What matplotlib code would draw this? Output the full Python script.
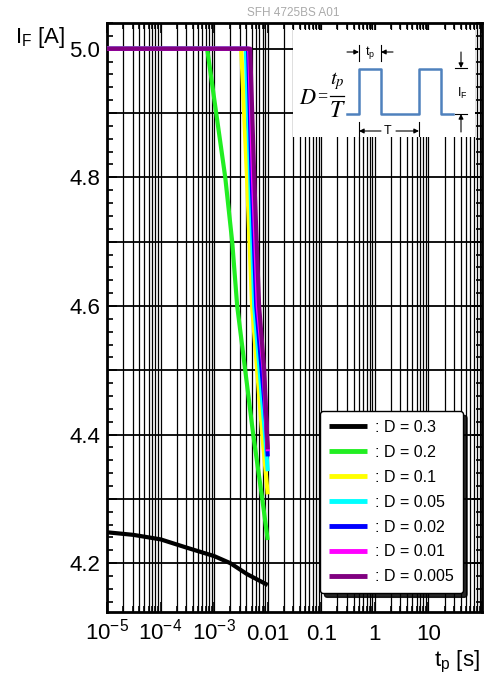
import matplotlib
matplotlib.use("Agg")
import matplotlib.pyplot as plt
from matplotlib.ticker import FixedLocator, LogLocator, MultipleLocator, FuncFormatter, NullFormatter

plt.rcParams["font.family"] = ["Liberation Sans", "DejaVu Sans"]
plt.rcParams["mathtext.default"] = "regular"

# pulse length t_p [s] vs max. forward current I_F [A]
tp_d03 = [1e-5, 3.1e-5, 1e-4, 3.1e-4, 1e-3, 2e-3, 4.1e-3, 1e-2]
if_d03 = [4.248, 4.244, 4.237, 4.224, 4.211, 4.200, 4.183, 4.166]

tp_d02 = [1e-5, 7.4e-4, 1.61e-3, 2.17e-3, 2.69e-3, 3.8e-3, 5.36e-3, 7.9e-3, 1e-2]
if_d02 = [5.0, 5.0, 4.8, 4.7, 4.6, 4.5, 4.4, 4.3, 4.236]

tp_d01 = [1e-5, 3.2e-3, 4.1e-3, 5.1e-3, 7.9e-3, 1e-2]
if_d01 = [5.0, 5.0, 4.8, 4.6, 4.4, 4.307]

tp_d005 = [1e-5, 3.9e-3, 4.7e-3, 5.6e-3, 8.9e-3, 1e-2]
if_d005 = [5.0, 5.0, 4.8, 4.6, 4.4, 4.343]

tp_d002 = [1e-5, 4.3e-3, 5.0e-3, 6.1e-3, 9.3e-3, 1e-2]
if_d002 = [5.0, 5.0, 4.8, 4.6, 4.42, 4.366]

tp_d001 = [1e-5, 4.5e-3, 5.3e-3, 6.5e-3, 8.4e-3, 1e-2]
if_d001 = [5.0, 5.0, 4.8, 4.6, 4.5, 4.374]

tp_d0005 = [1e-5, 4.7e-3, 5.6e-3, 6.9e-3, 8.6e-3, 1e-2]
if_d0005 = [5.0, 5.0, 4.8, 4.6, 4.5, 4.377]

labels = [": D = 0.3", ": D = 0.2", ": D = 0.1", ": D = 0.05",
          ": D = 0.02", ": D = 0.01", ": D = 0.005"]
colors = ["#000000", "#22ee22", "#ffff00", "#00ffff", "#0000ff", "#ff00ff", "#800080"]
series = [(tp_d03, if_d03), (tp_d02, if_d02), (tp_d01, if_d01), (tp_d005, if_d005),
          (tp_d002, if_d002), (tp_d001, if_d001), (tp_d0005, if_d0005)]

xticks = [1e-5, 1e-4, 1e-3, 1e-2, 1e-1, 1, 10, 100]
xticklabels = ["$10^{-5}$", "$10^{-4}$", "$10^{-3}$", "0.01", "0.1", "1", "10", ""]

fig = plt.figure(figsize=(4.86, 6.75), dpi=100)
ax = fig.add_axes([0.2202, 0.0933, 0.7716, 0.8726])

for (tp, i_f), c, lab in zip(series, colors, labels):
    ax.plot(tp, i_f, color=c, lw=3, label=lab, solid_capstyle="butt", zorder=3)

ax.set_xscale("log")
ax.set_xlim(1e-5, 100)
ax.set_ylim(4.124, 5.04)

ax.xaxis.set_major_locator(FixedLocator(xticks))
ax.set_xticklabels(xticklabels)
ax.xaxis.set_minor_locator(LogLocator(base=10, subs=range(2, 10), numticks=30))
ax.xaxis.set_minor_formatter(NullFormatter())
ax.yaxis.set_major_locator(MultipleLocator(0.1))
ax.yaxis.set_minor_locator(MultipleLocator(0.02))
ax.yaxis.set_major_formatter(FuncFormatter(lambda v, p: f"{v:.1f}" if round(v * 10) % 2 == 0 else ""))

ax.grid(True, which="both", axis="x", color="k", lw=0.9)
ax.grid(True, which="major", axis="y", color="k", lw=1.3)
ax.tick_params(which="both", direction="in", top=True, right=True, labelsize=16, width=1.2)
ax.tick_params(which="major", length=7)
ax.tick_params(which="minor", length=4.5)
ax.tick_params(axis="y", pad=5)
ax.tick_params(axis="x", pad=20)
for t in ax.get_xticklabels():
    t.set_va("baseline")
for s in ax.spines.values():
    s.set_linewidth(2)

leg = ax.legend(loc="lower right", bbox_to_anchor=(0.949, 0.032), fontsize=11.5,
                frameon=True, fancybox=True, framealpha=1, edgecolor="k",
                shadow={"ox": 3, "oy": -3, "color": "k", "alpha": 0.85},
                handlelength=2.4, handletextpad=0.5, labelspacing=0.62,
                borderpad=0.55, borderaxespad=0)
leg.get_frame().set_linewidth(1.0)
for h in leg.get_lines():
    h.set_linewidth(3.5)

fig.text(0.603, 0.981, "SFH 4725BS A01", color="#aaaaaa", fontsize=8.5, ha="center", va="center")
fig.text(0.031, 0.936, r"I$_{F}$ [A]", fontsize=16, ha="left", va="baseline")
fig.text(0.988, 0.013, r"t$_{p}$ [s]", fontsize=16, ha="right", va="baseline")

# pulse diagram (drawn in pixel-like coordinates of its own box)
ins = fig.add_axes([293 / 486, 1 - 137 / 675, (475 - 293) / 486, (137 - 30) / 675])
ins.set_xlim(293, 475)
ins.set_ylim(137, 30)
ins.set_xticks([])
ins.set_yticks([])
for s in ins.spines.values():
    s.set_visible(False)

wave_x = [347, 359, 359, 381, 381, 419, 419, 441, 441, 453]
wave_y = [114, 114, 69, 69, 114, 114, 69, 69, 114, 114]
ins.plot(wave_x, wave_y, color="#4f81bd", lw=1.8)

# D = t_p / T written as a stacked fraction
ins.text(299, 98, r"$\mathit{D}$", fontsize=16, math_fontfamily="stix",
         ha="left", va="center")
ins.text(322, 97, "=", fontsize=13, family="Liberation Serif", ha="center", va="center")
ins.text(337, 92, r"$\mathit{t_p}$", fontsize=15, math_fontfamily="stix",
         ha="center", va="bottom")
ins.plot([330, 344], [96, 96], color="k", lw=0.9)
ins.text(337, 100, r"$\mathit{T}$", fontsize=17, math_fontfamily="stix",
         ha="center", va="top")

arr = dict(arrowstyle="-|>", color="k", lw=0.8, mutation_scale=7, shrinkA=0, shrinkB=0)
ins.annotate("", xy=(359, 52), xytext=(347, 52), arrowprops=arr)
ins.annotate("", xy=(381, 52), xytext=(393, 52), arrowprops=arr)
ins.plot([359, 359], [45, 61], color="k", lw=0.8)
ins.plot([381, 381], [45, 61], color="k", lw=0.8)
ins.text(370, 53, r"t$_{p}$", fontsize=9, ha="center", va="center")

ins.annotate("", xy=(359, 131), xytext=(381, 131), arrowprops=arr)
ins.annotate("", xy=(419, 131), xytext=(396, 131), arrowprops=arr)
ins.plot([359, 359], [122, 140], color="k", lw=0.8)
ins.plot([419, 419], [122, 140], color="k", lw=0.8)
ins.text(388, 131, "T", fontsize=9, ha="center", va="center")

ins.annotate("", xy=(461, 68), xytext=(461, 52), arrowprops=arr)
ins.annotate("", xy=(461, 114), xytext=(461, 132), arrowprops=arr)
ins.plot([455, 467], [68, 68], color="k", lw=0.8)
ins.plot([455, 467], [114, 114], color="k", lw=0.8)
ins.text(462, 93, r"I$_{F}$", fontsize=9, ha="center", va="center")

fig.savefig("out.png", dpi=100)
